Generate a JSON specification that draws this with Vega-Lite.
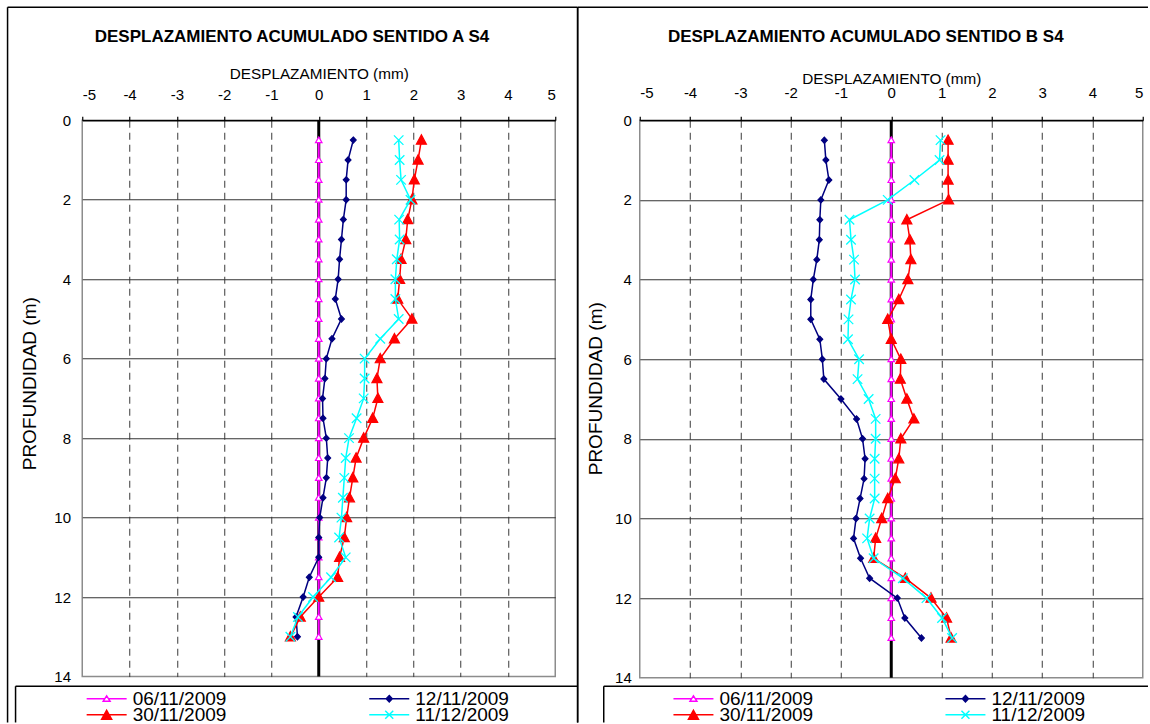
{
  "$schema": "https://vega.github.io/schema/vega-lite/v6.json",
  "padding": {"left": 5.25, "top": 5.25, "right": 0, "bottom": 0},
  "columns": 2,
  "align": "none",
  "spacing": -3.5,
  "config": {
    "font": "Liberation Sans",
    "view": {"stroke": "#8c8c8c", "strokeWidth": 1.5}
  },
  "datasets": {
    "sentidoA": [
      {"fecha": "06/11/2009", "prof": 0.5, "desp": 0}, {"fecha": "06/11/2009", "prof": 1, "desp": 0}, {"fecha": "06/11/2009", "prof": 1.5, "desp": 0}, {"fecha": "06/11/2009", "prof": 2, "desp": 0}, {"fecha": "06/11/2009", "prof": 2.5, "desp": 0}, {"fecha": "06/11/2009", "prof": 3, "desp": 0}, {"fecha": "06/11/2009", "prof": 3.5, "desp": 0}, {"fecha": "06/11/2009", "prof": 4, "desp": 0}, {"fecha": "06/11/2009", "prof": 4.5, "desp": 0}, {"fecha": "06/11/2009", "prof": 5, "desp": 0}, {"fecha": "06/11/2009", "prof": 5.5, "desp": 0}, {"fecha": "06/11/2009", "prof": 6, "desp": 0}, {"fecha": "06/11/2009", "prof": 6.5, "desp": 0}, {"fecha": "06/11/2009", "prof": 7, "desp": 0}, {"fecha": "06/11/2009", "prof": 7.5, "desp": 0}, {"fecha": "06/11/2009", "prof": 8, "desp": 0}, {"fecha": "06/11/2009", "prof": 8.5, "desp": 0}, {"fecha": "06/11/2009", "prof": 9, "desp": 0}, {"fecha": "06/11/2009", "prof": 9.5, "desp": 0}, {"fecha": "06/11/2009", "prof": 10, "desp": 0}, {"fecha": "06/11/2009", "prof": 10.5, "desp": 0}, {"fecha": "06/11/2009", "prof": 11, "desp": 0}, {"fecha": "06/11/2009", "prof": 11.5, "desp": 0}, {"fecha": "06/11/2009", "prof": 12, "desp": 0}, {"fecha": "06/11/2009", "prof": 12.5, "desp": 0}, {"fecha": "06/11/2009", "prof": 13, "desp": 0},
      {"fecha": "12/11/2009", "prof": 0.5, "desp": 0.73}, {"fecha": "12/11/2009", "prof": 1, "desp": 0.62}, {"fecha": "12/11/2009", "prof": 1.5, "desp": 0.58}, {"fecha": "12/11/2009", "prof": 2, "desp": 0.58}, {"fecha": "12/11/2009", "prof": 2.5, "desp": 0.52}, {"fecha": "12/11/2009", "prof": 3, "desp": 0.48}, {"fecha": "12/11/2009", "prof": 3.5, "desp": 0.44}, {"fecha": "12/11/2009", "prof": 4, "desp": 0.41}, {"fecha": "12/11/2009", "prof": 4.5, "desp": 0.35}, {"fecha": "12/11/2009", "prof": 5, "desp": 0.48}, {"fecha": "12/11/2009", "prof": 5.5, "desp": 0.28}, {"fecha": "12/11/2009", "prof": 6, "desp": 0.16}, {"fecha": "12/11/2009", "prof": 6.5, "desp": 0.13}, {"fecha": "12/11/2009", "prof": 7, "desp": 0.08}, {"fecha": "12/11/2009", "prof": 7.5, "desp": 0.09}, {"fecha": "12/11/2009", "prof": 8, "desp": 0.16}, {"fecha": "12/11/2009", "prof": 8.5, "desp": 0.19}, {"fecha": "12/11/2009", "prof": 9, "desp": 0.16}, {"fecha": "12/11/2009", "prof": 9.5, "desp": 0.09}, {"fecha": "12/11/2009", "prof": 10, "desp": 0.02}, {"fecha": "12/11/2009", "prof": 10.5, "desp": 0.0}, {"fecha": "12/11/2009", "prof": 11, "desp": 0.0}, {"fecha": "12/11/2009", "prof": 11.5, "desp": -0.2}, {"fecha": "12/11/2009", "prof": 12, "desp": -0.33}, {"fecha": "12/11/2009", "prof": 12.5, "desp": -0.48}, {"fecha": "12/11/2009", "prof": 13, "desp": -0.45},
      {"fecha": "30/11/2009", "prof": 0.5, "desp": 2.17}, {"fecha": "30/11/2009", "prof": 1, "desp": 2.1}, {"fecha": "30/11/2009", "prof": 1.5, "desp": 2.02}, {"fecha": "30/11/2009", "prof": 2, "desp": 1.97}, {"fecha": "30/11/2009", "prof": 2.5, "desp": 1.88}, {"fecha": "30/11/2009", "prof": 3, "desp": 1.84}, {"fecha": "30/11/2009", "prof": 3.5, "desp": 1.74}, {"fecha": "30/11/2009", "prof": 4, "desp": 1.71}, {"fecha": "30/11/2009", "prof": 4.5, "desp": 1.67}, {"fecha": "30/11/2009", "prof": 5, "desp": 1.97}, {"fecha": "30/11/2009", "prof": 5.5, "desp": 1.6}, {"fecha": "30/11/2009", "prof": 6, "desp": 1.3}, {"fecha": "30/11/2009", "prof": 6.5, "desp": 1.23}, {"fecha": "30/11/2009", "prof": 7, "desp": 1.25}, {"fecha": "30/11/2009", "prof": 7.5, "desp": 1.14}, {"fecha": "30/11/2009", "prof": 8, "desp": 0.95}, {"fecha": "30/11/2009", "prof": 8.5, "desp": 0.79}, {"fecha": "30/11/2009", "prof": 9, "desp": 0.72}, {"fecha": "30/11/2009", "prof": 9.5, "desp": 0.65}, {"fecha": "30/11/2009", "prof": 10, "desp": 0.59}, {"fecha": "30/11/2009", "prof": 10.5, "desp": 0.54}, {"fecha": "30/11/2009", "prof": 11, "desp": 0.44}, {"fecha": "30/11/2009", "prof": 11.5, "desp": 0.4}, {"fecha": "30/11/2009", "prof": 12, "desp": 0.0}, {"fecha": "30/11/2009", "prof": 12.5, "desp": -0.39}, {"fecha": "30/11/2009", "prof": 13, "desp": -0.6},
      {"fecha": "11/12/2009", "prof": 0.5, "desp": 1.69}, {"fecha": "11/12/2009", "prof": 1, "desp": 1.71}, {"fecha": "11/12/2009", "prof": 1.5, "desp": 1.74}, {"fecha": "11/12/2009", "prof": 2, "desp": 1.94}, {"fecha": "11/12/2009", "prof": 2.5, "desp": 1.7}, {"fecha": "11/12/2009", "prof": 3, "desp": 1.71}, {"fecha": "11/12/2009", "prof": 3.5, "desp": 1.65}, {"fecha": "11/12/2009", "prof": 4, "desp": 1.62}, {"fecha": "11/12/2009", "prof": 4.5, "desp": 1.62}, {"fecha": "11/12/2009", "prof": 5, "desp": 1.69}, {"fecha": "11/12/2009", "prof": 5.5, "desp": 1.3}, {"fecha": "11/12/2009", "prof": 6, "desp": 0.97}, {"fecha": "11/12/2009", "prof": 6.5, "desp": 0.97}, {"fecha": "11/12/2009", "prof": 7, "desp": 0.95}, {"fecha": "11/12/2009", "prof": 7.5, "desp": 0.8}, {"fecha": "11/12/2009", "prof": 8, "desp": 0.64}, {"fecha": "11/12/2009", "prof": 8.5, "desp": 0.57}, {"fecha": "11/12/2009", "prof": 9, "desp": 0.54}, {"fecha": "11/12/2009", "prof": 9.5, "desp": 0.51}, {"fecha": "11/12/2009", "prof": 10, "desp": 0.48}, {"fecha": "11/12/2009", "prof": 10.5, "desp": 0.43}, {"fecha": "11/12/2009", "prof": 11, "desp": 0.57}, {"fecha": "11/12/2009", "prof": 11.5, "desp": 0.26}, {"fecha": "11/12/2009", "prof": 12, "desp": -0.12}, {"fecha": "11/12/2009", "prof": 12.5, "desp": -0.44}, {"fecha": "11/12/2009", "prof": 13, "desp": -0.6}
    ],
    "sentidoB": [
      {"fecha": "06/11/2009", "prof": 0.5, "desp": 0}, {"fecha": "06/11/2009", "prof": 1, "desp": 0}, {"fecha": "06/11/2009", "prof": 1.5, "desp": 0}, {"fecha": "06/11/2009", "prof": 2, "desp": 0}, {"fecha": "06/11/2009", "prof": 2.5, "desp": 0}, {"fecha": "06/11/2009", "prof": 3, "desp": 0}, {"fecha": "06/11/2009", "prof": 3.5, "desp": 0}, {"fecha": "06/11/2009", "prof": 4, "desp": 0}, {"fecha": "06/11/2009", "prof": 4.5, "desp": 0}, {"fecha": "06/11/2009", "prof": 5, "desp": 0}, {"fecha": "06/11/2009", "prof": 5.5, "desp": 0}, {"fecha": "06/11/2009", "prof": 6, "desp": 0}, {"fecha": "06/11/2009", "prof": 6.5, "desp": 0}, {"fecha": "06/11/2009", "prof": 7, "desp": 0}, {"fecha": "06/11/2009", "prof": 7.5, "desp": 0}, {"fecha": "06/11/2009", "prof": 8, "desp": 0}, {"fecha": "06/11/2009", "prof": 8.5, "desp": 0}, {"fecha": "06/11/2009", "prof": 9, "desp": 0}, {"fecha": "06/11/2009", "prof": 9.5, "desp": 0}, {"fecha": "06/11/2009", "prof": 10, "desp": 0}, {"fecha": "06/11/2009", "prof": 10.5, "desp": 0}, {"fecha": "06/11/2009", "prof": 11, "desp": 0}, {"fecha": "06/11/2009", "prof": 11.5, "desp": 0}, {"fecha": "06/11/2009", "prof": 12, "desp": 0}, {"fecha": "06/11/2009", "prof": 12.5, "desp": 0}, {"fecha": "06/11/2009", "prof": 13, "desp": 0},
      {"fecha": "12/11/2009", "prof": 0.5, "desp": -1.33}, {"fecha": "12/11/2009", "prof": 1, "desp": -1.3}, {"fecha": "12/11/2009", "prof": 1.5, "desp": -1.24}, {"fecha": "12/11/2009", "prof": 2, "desp": -1.4}, {"fecha": "12/11/2009", "prof": 2.5, "desp": -1.42}, {"fecha": "12/11/2009", "prof": 3, "desp": -1.43}, {"fecha": "12/11/2009", "prof": 3.5, "desp": -1.48}, {"fecha": "12/11/2009", "prof": 4, "desp": -1.55}, {"fecha": "12/11/2009", "prof": 4.5, "desp": -1.6}, {"fecha": "12/11/2009", "prof": 5, "desp": -1.6}, {"fecha": "12/11/2009", "prof": 5.5, "desp": -1.42}, {"fecha": "12/11/2009", "prof": 6, "desp": -1.37}, {"fecha": "12/11/2009", "prof": 6.5, "desp": -1.34}, {"fecha": "12/11/2009", "prof": 7, "desp": -1.0}, {"fecha": "12/11/2009", "prof": 7.5, "desp": -0.69}, {"fecha": "12/11/2009", "prof": 8, "desp": -0.57}, {"fecha": "12/11/2009", "prof": 8.5, "desp": -0.52}, {"fecha": "12/11/2009", "prof": 9, "desp": -0.54}, {"fecha": "12/11/2009", "prof": 9.5, "desp": -0.62}, {"fecha": "12/11/2009", "prof": 10, "desp": -0.7}, {"fecha": "12/11/2009", "prof": 10.5, "desp": -0.75}, {"fecha": "12/11/2009", "prof": 11, "desp": -0.61}, {"fecha": "12/11/2009", "prof": 11.5, "desp": -0.43}, {"fecha": "12/11/2009", "prof": 12, "desp": 0.12}, {"fecha": "12/11/2009", "prof": 12.5, "desp": 0.27}, {"fecha": "12/11/2009", "prof": 13, "desp": 0.6},
      {"fecha": "30/11/2009", "prof": 0.5, "desp": 1.13}, {"fecha": "30/11/2009", "prof": 1, "desp": 1.13}, {"fecha": "30/11/2009", "prof": 1.5, "desp": 1.13}, {"fecha": "30/11/2009", "prof": 2, "desp": 1.14}, {"fecha": "30/11/2009", "prof": 2.5, "desp": 0.31}, {"fecha": "30/11/2009", "prof": 3, "desp": 0.37}, {"fecha": "30/11/2009", "prof": 3.5, "desp": 0.39}, {"fecha": "30/11/2009", "prof": 4, "desp": 0.33}, {"fecha": "30/11/2009", "prof": 4.5, "desp": 0.15}, {"fecha": "30/11/2009", "prof": 5, "desp": -0.07}, {"fecha": "30/11/2009", "prof": 5.5, "desp": 0.0}, {"fecha": "30/11/2009", "prof": 6, "desp": 0.19}, {"fecha": "30/11/2009", "prof": 6.5, "desp": 0.18}, {"fecha": "30/11/2009", "prof": 7, "desp": 0.31}, {"fecha": "30/11/2009", "prof": 7.5, "desp": 0.45}, {"fecha": "30/11/2009", "prof": 8, "desp": 0.19}, {"fecha": "30/11/2009", "prof": 8.5, "desp": 0.15}, {"fecha": "30/11/2009", "prof": 9, "desp": 0.08}, {"fecha": "30/11/2009", "prof": 9.5, "desp": -0.07}, {"fecha": "30/11/2009", "prof": 10, "desp": -0.19}, {"fecha": "30/11/2009", "prof": 10.5, "desp": -0.31}, {"fecha": "30/11/2009", "prof": 11, "desp": -0.35}, {"fecha": "30/11/2009", "prof": 11.5, "desp": 0.28}, {"fecha": "30/11/2009", "prof": 12, "desp": 0.79}, {"fecha": "30/11/2009", "prof": 12.5, "desp": 1.1}, {"fecha": "30/11/2009", "prof": 13, "desp": 1.19},
      {"fecha": "11/12/2009", "prof": 0.5, "desp": 0.98}, {"fecha": "11/12/2009", "prof": 1, "desp": 0.96}, {"fecha": "11/12/2009", "prof": 1.5, "desp": 0.46}, {"fecha": "11/12/2009", "prof": 2, "desp": -0.07}, {"fecha": "11/12/2009", "prof": 2.5, "desp": -0.83}, {"fecha": "11/12/2009", "prof": 3, "desp": -0.8}, {"fecha": "11/12/2009", "prof": 3.5, "desp": -0.74}, {"fecha": "11/12/2009", "prof": 4, "desp": -0.72}, {"fecha": "11/12/2009", "prof": 4.5, "desp": -0.8}, {"fecha": "11/12/2009", "prof": 5, "desp": -0.85}, {"fecha": "11/12/2009", "prof": 5.5, "desp": -0.86}, {"fecha": "11/12/2009", "prof": 6, "desp": -0.64}, {"fecha": "11/12/2009", "prof": 6.5, "desp": -0.67}, {"fecha": "11/12/2009", "prof": 7, "desp": -0.45}, {"fecha": "11/12/2009", "prof": 7.5, "desp": -0.31}, {"fecha": "11/12/2009", "prof": 8, "desp": -0.31}, {"fecha": "11/12/2009", "prof": 8.5, "desp": -0.33}, {"fecha": "11/12/2009", "prof": 9, "desp": -0.33}, {"fecha": "11/12/2009", "prof": 9.5, "desp": -0.33}, {"fecha": "11/12/2009", "prof": 10, "desp": -0.43}, {"fecha": "11/12/2009", "prof": 10.5, "desp": -0.48}, {"fecha": "11/12/2009", "prof": 11, "desp": -0.35}, {"fecha": "11/12/2009", "prof": 11.5, "desp": 0.23}, {"fecha": "11/12/2009", "prof": 12, "desp": 0.7}, {"fecha": "11/12/2009", "prof": 12.5, "desp": 1.01}, {"fecha": "11/12/2009", "prof": 13, "desp": 1.21}
    ]
  },
  "concat": [
    {
      "width": 473,
      "height": 556.3,
      "data": {"name": "sentidoA"},
      "title": {"text": "DESPLAZAMIENTO ACUMULADO SENTIDO A S4", "frame": "group", "anchor": "middle", "dx": -26.8, "offset": -47.25, "baseline": "middle", "fontSize": 17, "fontWeight": "bold", "font": "Liberation Sans", "color": "#000000"},
      "layer": [
        {"data": {"values": [{}]}, "mark": {"type": "rule", "color": "#000000", "strokeWidth": 1.5},
         "encoding": {
           "x": {"datum": -6.579, "scale": {"domain": [-5, 5], "nice": false, "zero": false},
             "axis": {"orient": "top", "title": "DESPLAZAMIENTO (mm)", "values": [-5, -4, -3, -2, -1, 0, 1, 2, 3, 4, 5],
               "labelExpr": "datum.value < 0 ? '-' + abs(datum.value) : '' + datum.value",
               "grid": true, "gridColor": "#3a3a3a", "gridDash": [7, 5], "gridWidth": 1,
               "gridOpacity": {"condition": {"test": "abs(datum.value) === 5 || datum.value === 0", "value": 0}, "value": 1},
               "domainColor": "#000000", "domainWidth": 1.5, "ticks": true, "tickColor": "#000000", "tickSize": 4, "tickWidth": 1.2,
               "labelFontSize": 15, "labelColor": "#000000", "labelPadding": 14, "labelFont": "Liberation Sans",
               "titleFontSize": 15.3, "titleFontWeight": "normal", "titleColor": "#000000", "titlePadding": 5.8, "titleFont": "Liberation Sans",
               "encode": {"ticks": {"update": {"y": {"value": 4}}}}}},
           "y": {"datum": -2.8438, "scale": {"domain": [0, 14], "nice": false, "zero": false, "reverse": true},
             "axis": {"orient": "left", "title": "PROFUNDIDAD  (m)", "values": [0, 2, 4, 6, 8, 10, 12, 14],
               "grid": true, "gridColor": "#333333", "gridWidth": 1,
               "gridOpacity": {"condition": {"test": "datum.value === 0 || datum.value === 14", "value": 0}, "value": 1},
               "domain": false, "ticks": false, "tickSize": 0,
               "labelFontSize": 15, "labelColor": "#000000", "labelPadding": 11.7, "labelFont": "Liberation Sans",
               "titleFontSize": 19, "titleFontWeight": "normal", "titleColor": "#000000", "titleFont": "Liberation Sans",
               "titleAngle": 270, "titleX": -52.7, "titleY": 263, "titleBaseline": "middle", "titleAlign": "center"}},
           "y2": {"datum": 15.156}}},
        {"data": {"values": [{}]}, "mark": {"type": "rule", "color": "#000000", "strokeWidth": 1.5},
         "encoding": {"x": {"datum": -6.579, "scale": {"domain": [-5, 5], "nice": false, "zero": false}}, "x2": {"datum": 5.471}, "y": {"datum": -2.8438, "scale": {"domain": [0, 14], "nice": false, "zero": false, "reverse": true}}}},
        {"data": {"values": [{}]}, "mark": {"type": "rule", "color": "#000000", "strokeWidth": 1.5},
         "encoding": {"x": {"datum": 5.471, "scale": {"domain": [-5, 5], "nice": false, "zero": false}}, "y": {"datum": -2.8438, "scale": {"domain": [0, 14], "nice": false, "zero": false, "reverse": true}}, "y2": {"datum": 15.156}}},
        {"data": {"values": [{}]}, "mark": {"type": "rule", "color": "#000000", "strokeWidth": 1.5},
         "encoding": {"x": {"datum": -6.41, "scale": {"domain": [-5, 5], "nice": false, "zero": false}}, "x2": {"datum": 5.471}, "y": {"datum": 14.244, "scale": {"domain": [0, 14], "nice": false, "zero": false, "reverse": true}}}},
        {"data": {"values": [{}]}, "mark": {"type": "rule", "color": "#000000", "strokeWidth": 1.5},
         "encoding": {"x": {"datum": -6.41, "scale": {"domain": [-5, 5], "nice": false, "zero": false}}, "y": {"datum": 14.244, "scale": {"domain": [0, 14], "nice": false, "zero": false, "reverse": true}}, "y2": {"datum": 15.156}}},
        {"data": {"values": [{}]}, "mark": {"type": "rule", "color": "#000000", "strokeWidth": 3},
         "encoding": {"x": {"datum": 0, "scale": {"domain": [-5, 5], "nice": false, "zero": false}}, "y": {"datum": 0, "scale": {"domain": [0, 14], "nice": false, "zero": false, "reverse": true}}, "y2": {"datum": 14}}},
        {
          "transform": [{"filter": "datum.fecha === '06/11/2009'"}],
          "encoding": {
            "x": {"field": "desp", "type": "quantitative", "scale": {"domain": [-5, 5], "nice": false, "zero": false}},
            "y": {"field": "prof", "type": "quantitative", "scale": {"domain": [0, 14], "nice": false, "zero": false, "reverse": true}}
          },
          "layer": [
            {"mark": {"type": "line", "strokeWidth": 2},
             "encoding": {"order": {"field": "prof", "type": "quantitative"},
               "stroke": {"field": "fecha", "type": "nominal", "scale": {"range": ["#ff00ff"]},
                 "legend": {"orient": "none", "legendX": 3.4, "legendY": 570.5, "title": null, "padding": 0, "clipHeight": 16,
                   "labelFontSize": 19, "labelColor": "#000000", "labelFont": "Liberation Sans", "labelOffset": 5,
                   "symbolType": "M-1,0L-0.09,0M0.09,0L1,0M0,-0.14L0.17,0.12L-0.17,0.12Z", "symbolSize": 1600, "symbolStrokeWidth": 1.5, "symbolOffset": 0, "symbolFillColor": "#ffffff"}}}},
            {"mark": {"type": "point", "shape": "M0,-0.65L0.65,0.5L-0.65,0.5Z", "size": 100, "filled": true, "fill": "#ffffff", "stroke": "#ff00ff", "strokeWidth": 1.2, "opacity": 1}}
          ]
        },
        {
          "transform": [{"filter": "datum.fecha === '12/11/2009'"}],
          "encoding": {
            "x": {"field": "desp", "type": "quantitative", "scale": {"domain": [-5, 5], "nice": false, "zero": false}},
            "y": {"field": "prof", "type": "quantitative", "scale": {"domain": [0, 14], "nice": false, "zero": false, "reverse": true}}
          },
          "layer": [
            {"mark": {"type": "line", "strokeWidth": 1.5},
             "encoding": {"order": {"field": "prof", "type": "quantitative"},
               "stroke": {"field": "fecha", "type": "nominal", "scale": {"range": ["#000080"]},
                 "legend": {"orient": "none", "legendX": 286, "legendY": 570.5, "title": null, "padding": 0, "clipHeight": 16,
                   "labelFontSize": 19, "labelColor": "#000000", "labelFont": "Liberation Sans", "labelOffset": 5,
                   "symbolType": "M-1,0L1,0M0,-0.16L0.15,0L0,0.16L-0.15,0ZM0,-0.07L0.07,0L0,0.07L-0.07,0Z", "symbolSize": 1600, "symbolStrokeWidth": 1.5, "symbolOffset": 0, "symbolFillColor": "#000080"}}}},
            {"mark": {"type": "point", "shape": "M0,-0.62L0.58,0L0,0.62L-0.58,0Z", "size": 100, "filled": true, "fill": "#000080", "stroke": "#000080", "strokeWidth": 1.2, "opacity": 1}}
          ]
        },
        {
          "transform": [{"filter": "datum.fecha === '30/11/2009'"}],
          "encoding": {
            "x": {"field": "desp", "type": "quantitative", "scale": {"domain": [-5, 5], "nice": false, "zero": false}},
            "y": {"field": "prof", "type": "quantitative", "scale": {"domain": [0, 14], "nice": false, "zero": false, "reverse": true}}
          },
          "layer": [
            {"mark": {"type": "line", "strokeWidth": 1.5},
             "encoding": {"order": {"field": "prof", "type": "quantitative"},
               "stroke": {"field": "fecha", "type": "nominal", "scale": {"range": ["#ff0000"]},
                 "legend": {"orient": "none", "legendX": 3.4, "legendY": 586.5, "title": null, "padding": 0, "clipHeight": 16,
                   "labelFontSize": 19, "labelColor": "#000000", "labelFont": "Liberation Sans", "labelOffset": 5,
                   "symbolType": "M-1,0L1,0M0,-0.22L0.25,0.23L-0.25,0.23ZM0,-0.1L0.14,0.16L-0.14,0.16ZM0,0.02L0.05,0.11L-0.05,0.11Z", "symbolSize": 1600, "symbolStrokeWidth": 1.5, "symbolOffset": 0, "symbolFillColor": "#ff0000"}}}},
            {"mark": {"type": "point", "shape": "M0,-1.05L1,0.82L-1,0.82Z", "size": 100, "filled": true, "fill": "#ff0000", "stroke": "#ff0000", "strokeWidth": 1.2, "opacity": 1}}
          ]
        },
        {
          "transform": [{"filter": "datum.fecha === '11/12/2009'"}],
          "encoding": {
            "x": {"field": "desp", "type": "quantitative", "scale": {"domain": [-5, 5], "nice": false, "zero": false}},
            "y": {"field": "prof", "type": "quantitative", "scale": {"domain": [0, 14], "nice": false, "zero": false, "reverse": true}}
          },
          "layer": [
            {"mark": {"type": "line", "strokeWidth": 1.5},
             "encoding": {"order": {"field": "prof", "type": "quantitative"},
               "stroke": {"field": "fecha", "type": "nominal", "scale": {"range": ["#00ffff"]},
                 "legend": {"orient": "none", "legendX": 286, "legendY": 586.5, "title": null, "padding": 0, "clipHeight": 16,
                   "labelFontSize": 19, "labelColor": "#000000", "labelFont": "Liberation Sans", "labelOffset": 5,
                   "symbolType": "M-1,0L1,0M-0.2,-0.2L0.2,0.2M-0.2,0.2L0.2,-0.2", "symbolSize": 1600, "symbolStrokeWidth": 1.5, "symbolOffset": 0, "symbolFillColor": "transparent"}}}},
            {"mark": {"type": "point", "shape": "M-0.95,-0.95L0.95,0.95M-0.95,0.95L0.95,-0.95", "size": 100, "filled": false, "fill": "transparent", "stroke": "#00ffff", "strokeWidth": 1.3, "opacity": 1}}
          ]
        }
      ],
      "resolve": {"scale": {"stroke": "independent"}, "legend": {"stroke": "independent"}}
    },
    {
      "width": 503,
      "height": 557.5,
      "data": {"name": "sentidoB"},
      "title": {"text": "DESPLAZAMIENTO ACUMULADO SENTIDO B S4", "frame": "group", "anchor": "middle", "dx": -25.5, "offset": -47.25, "baseline": "middle", "fontSize": 17, "fontWeight": "bold", "font": "Liberation Sans", "color": "#000000"},
      "layer": [
        {"data": {"values": [{}]}, "mark": {"type": "rule", "color": "#000000", "strokeWidth": 1.5},
         "encoding": {
           "x": {"datum": -6.233, "scale": {"domain": [-5, 5], "nice": false, "zero": false},
             "axis": {"orient": "top", "title": "DESPLAZAMIENTO (mm)", "values": [-5, -4, -3, -2, -1, 0, 1, 2, 3, 4, 5],
               "labelExpr": "datum.value < 0 ? '-' + abs(datum.value) : '' + datum.value",
               "grid": true, "gridColor": "#3a3a3a", "gridDash": [7, 5], "gridWidth": 1,
               "gridOpacity": {"condition": {"test": "abs(datum.value) === 5 || datum.value === 0", "value": 0}, "value": 1},
               "domainColor": "#000000", "domainWidth": 1.5, "ticks": true, "tickColor": "#000000", "tickSize": 4, "tickWidth": 1.2,
               "labelFontSize": 15, "labelColor": "#000000", "labelPadding": 15.3, "labelFont": "Liberation Sans",
               "titleFontSize": 15.3, "titleFontWeight": "normal", "titleColor": "#000000", "titlePadding": -1, "titleFont": "Liberation Sans",
               "encode": {"ticks": {"update": {"y": {"value": 4}}}}}},
           "y": {"datum": -2.8377, "scale": {"domain": [0, 14], "nice": false, "zero": false, "reverse": true},
             "axis": {"orient": "left", "title": "PROFUNDIDAD  (m)", "values": [0, 2, 4, 6, 8, 10, 12, 14],
               "grid": true, "gridColor": "#333333", "gridWidth": 1,
               "gridOpacity": {"condition": {"test": "datum.value === 0 || datum.value === 14", "value": 0}, "value": 1},
               "domain": false, "ticks": false, "tickSize": 0,
               "labelFontSize": 15, "labelColor": "#000000", "labelPadding": 8.5, "labelFont": "Liberation Sans",
               "titleFontSize": 19, "titleFontWeight": "normal", "titleColor": "#000000", "titleFont": "Liberation Sans",
               "titleAngle": 270, "titleX": -44, "titleY": 268, "titleBaseline": "middle", "titleAlign": "center"}},
           "y2": {"datum": 15.124}}},
        {"data": {"values": [{}]}, "mark": {"type": "rule", "color": "#000000", "strokeWidth": 1.5},
         "encoding": {"x": {"datum": -6.233, "scale": {"domain": [-5, 5], "nice": false, "zero": false}}, "x2": {"datum": 5.104}, "y": {"datum": -2.8377, "scale": {"domain": [0, 14], "nice": false, "zero": false, "reverse": true}}}},
        {"data": {"values": [{}]}, "mark": {"type": "rule", "color": "#000000", "strokeWidth": 1.5},
         "encoding": {"x": {"datum": -5.716, "scale": {"domain": [-5, 5], "nice": false, "zero": false}}, "x2": {"datum": 5.104}, "y": {"datum": 14.2136, "scale": {"domain": [0, 14], "nice": false, "zero": false, "reverse": true}}}},
        {"data": {"values": [{}]}, "mark": {"type": "rule", "color": "#000000", "strokeWidth": 1.5},
         "encoding": {"x": {"datum": -5.716, "scale": {"domain": [-5, 5], "nice": false, "zero": false}}, "y": {"datum": 14.2136, "scale": {"domain": [0, 14], "nice": false, "zero": false, "reverse": true}}, "y2": {"datum": 15.124}}},
        {"data": {"values": [{}]}, "mark": {"type": "rule", "color": "#000000", "strokeWidth": 3},
         "encoding": {"x": {"datum": 0, "scale": {"domain": [-5, 5], "nice": false, "zero": false}}, "y": {"datum": 0, "scale": {"domain": [0, 14], "nice": false, "zero": false, "reverse": true}}, "y2": {"datum": 14}}},
        {
          "transform": [{"filter": "datum.fecha === '06/11/2009'"}],
          "encoding": {
            "x": {"field": "desp", "type": "quantitative", "scale": {"domain": [-5, 5], "nice": false, "zero": false}},
            "y": {"field": "prof", "type": "quantitative", "scale": {"domain": [0, 14], "nice": false, "zero": false, "reverse": true}}
          },
          "layer": [
            {"mark": {"type": "line", "strokeWidth": 2},
             "encoding": {"order": {"field": "prof", "type": "quantitative"},
               "stroke": {"field": "fecha", "type": "nominal", "scale": {"range": ["#ff00ff"]},
                 "legend": {"orient": "none", "legendX": 32.7, "legendY": 570.5, "title": null, "padding": 0, "clipHeight": 16,
                   "labelFontSize": 19, "labelColor": "#000000", "labelFont": "Liberation Sans", "labelOffset": 5,
                   "symbolType": "M-1,0L-0.09,0M0.09,0L1,0M0,-0.14L0.17,0.12L-0.17,0.12Z", "symbolSize": 1600, "symbolStrokeWidth": 1.5, "symbolOffset": 0, "symbolFillColor": "#ffffff"}}}},
            {"mark": {"type": "point", "shape": "M0,-0.65L0.65,0.5L-0.65,0.5Z", "size": 100, "filled": true, "fill": "#ffffff", "stroke": "#ff00ff", "strokeWidth": 1.2, "opacity": 1}}
          ]
        },
        {
          "transform": [{"filter": "datum.fecha === '12/11/2009'"}],
          "encoding": {
            "x": {"field": "desp", "type": "quantitative", "scale": {"domain": [-5, 5], "nice": false, "zero": false}},
            "y": {"field": "prof", "type": "quantitative", "scale": {"domain": [0, 14], "nice": false, "zero": false, "reverse": true}}
          },
          "layer": [
            {"mark": {"type": "line", "strokeWidth": 1.5},
             "encoding": {"order": {"field": "prof", "type": "quantitative"},
               "stroke": {"field": "fecha", "type": "nominal", "scale": {"range": ["#000080"]},
                 "legend": {"orient": "none", "legendX": 304.7, "legendY": 570.5, "title": null, "padding": 0, "clipHeight": 16,
                   "labelFontSize": 19, "labelColor": "#000000", "labelFont": "Liberation Sans", "labelOffset": 5,
                   "symbolType": "M-1,0L1,0M0,-0.16L0.15,0L0,0.16L-0.15,0ZM0,-0.07L0.07,0L0,0.07L-0.07,0Z", "symbolSize": 1600, "symbolStrokeWidth": 1.5, "symbolOffset": 0, "symbolFillColor": "#000080"}}}},
            {"mark": {"type": "point", "shape": "M0,-0.62L0.58,0L0,0.62L-0.58,0Z", "size": 100, "filled": true, "fill": "#000080", "stroke": "#000080", "strokeWidth": 1.2, "opacity": 1}}
          ]
        },
        {
          "transform": [{"filter": "datum.fecha === '30/11/2009'"}],
          "encoding": {
            "x": {"field": "desp", "type": "quantitative", "scale": {"domain": [-5, 5], "nice": false, "zero": false}},
            "y": {"field": "prof", "type": "quantitative", "scale": {"domain": [0, 14], "nice": false, "zero": false, "reverse": true}}
          },
          "layer": [
            {"mark": {"type": "line", "strokeWidth": 1.5},
             "encoding": {"order": {"field": "prof", "type": "quantitative"},
               "stroke": {"field": "fecha", "type": "nominal", "scale": {"range": ["#ff0000"]},
                 "legend": {"orient": "none", "legendX": 32.7, "legendY": 586.5, "title": null, "padding": 0, "clipHeight": 16,
                   "labelFontSize": 19, "labelColor": "#000000", "labelFont": "Liberation Sans", "labelOffset": 5,
                   "symbolType": "M-1,0L1,0M0,-0.22L0.25,0.23L-0.25,0.23ZM0,-0.1L0.14,0.16L-0.14,0.16ZM0,0.02L0.05,0.11L-0.05,0.11Z", "symbolSize": 1600, "symbolStrokeWidth": 1.5, "symbolOffset": 0, "symbolFillColor": "#ff0000"}}}},
            {"mark": {"type": "point", "shape": "M0,-1.05L1,0.82L-1,0.82Z", "size": 100, "filled": true, "fill": "#ff0000", "stroke": "#ff0000", "strokeWidth": 1.2, "opacity": 1}}
          ]
        },
        {
          "transform": [{"filter": "datum.fecha === '11/12/2009'"}],
          "encoding": {
            "x": {"field": "desp", "type": "quantitative", "scale": {"domain": [-5, 5], "nice": false, "zero": false}},
            "y": {"field": "prof", "type": "quantitative", "scale": {"domain": [0, 14], "nice": false, "zero": false, "reverse": true}}
          },
          "layer": [
            {"mark": {"type": "line", "strokeWidth": 1.5},
             "encoding": {"order": {"field": "prof", "type": "quantitative"},
               "stroke": {"field": "fecha", "type": "nominal", "scale": {"range": ["#00ffff"]},
                 "legend": {"orient": "none", "legendX": 304.7, "legendY": 586.5, "title": null, "padding": 0, "clipHeight": 16,
                   "labelFontSize": 19, "labelColor": "#000000", "labelFont": "Liberation Sans", "labelOffset": 5,
                   "symbolType": "M-1,0L1,0M-0.2,-0.2L0.2,0.2M-0.2,0.2L0.2,-0.2", "symbolSize": 1600, "symbolStrokeWidth": 1.5, "symbolOffset": 0, "symbolFillColor": "transparent"}}}},
            {"mark": {"type": "point", "shape": "M-0.95,-0.95L0.95,0.95M-0.95,0.95L0.95,-0.95", "size": 100, "filled": false, "fill": "transparent", "stroke": "#00ffff", "strokeWidth": 1.3, "opacity": 1}}
          ]
        }
      ],
      "resolve": {"scale": {"stroke": "independent"}, "legend": {"stroke": "independent"}}
    }
  ],
  "resolve": {
    "scale": {"x": "independent", "y": "independent", "stroke": "independent"},
    "legend": {"stroke": "independent"}
  }
}
